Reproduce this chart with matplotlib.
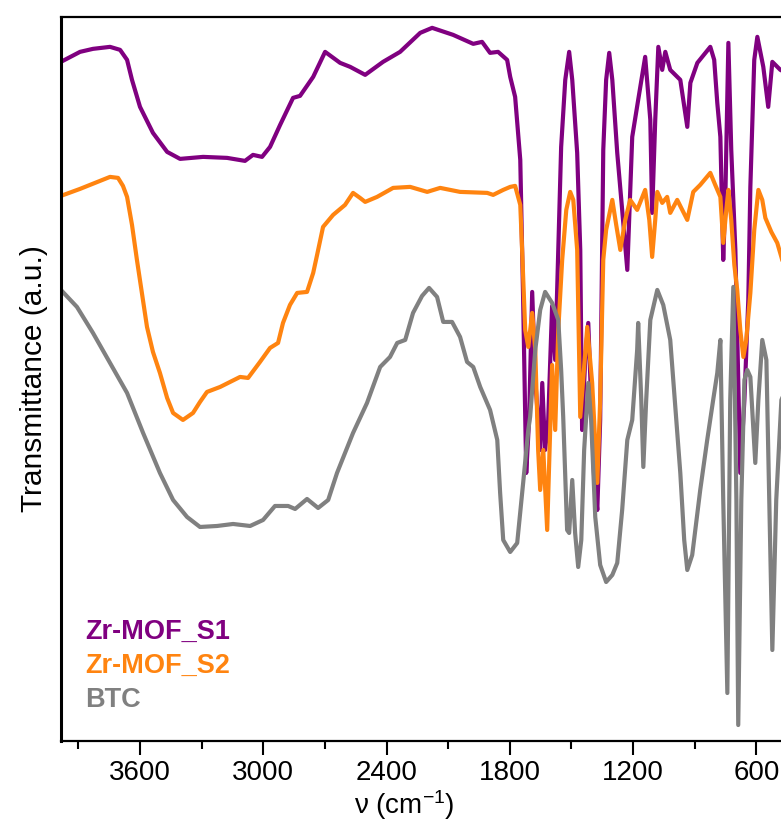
import matplotlib
matplotlib.use("Agg")
import matplotlib.pyplot as plt
from matplotlib.ticker import MultipleLocator

plt.rcParams["font.family"] = ["Liberation Sans", "DejaVu Sans"]
plt.rcParams["mathtext.fontset"] = "custom"
plt.rcParams["mathtext.rm"] = "Liberation Sans"
plt.rcParams["mathtext.it"] = "Liberation Sans:italic"

# Zr-MOF_S1 : wavenumber (cm-1), transmittance (a.u.)
s1_wn = [3985, 3892, 3829, 3746, 3697, 3663, 3639, 3600, 3537, 3468, 3405, 3293, 3176,
         3089, 3050, 3006, 2967, 2918, 2855, 2821, 2757, 2699, 2626, 2577, 2504, 2417,
         2334, 2236, 2178, 2076, 1978, 1935, 1896, 1857, 1813, 1798, 1774, 1749, 1735,
         1720, 1706, 1691, 1676, 1652, 1642, 1628, 1613, 1594, 1579, 1564, 1550, 1530,
         1511, 1496, 1472, 1457, 1448, 1433, 1418, 1404, 1389, 1374, 1360, 1345, 1331,
         1316, 1301, 1277, 1253, 1228, 1219, 1204, 1175, 1141, 1116, 1107, 1092, 1077,
         1058, 1043, 1019, 970, 936, 921, 887, 824, 805, 790, 775, 761, 751, 736, 722,
         702, 678, 658, 639, 629, 610, 595, 566, 542, 522, 483, 434, 400]
s1_t = [67.9, 68.9, 69.2, 69.4, 69.1, 68.1, 66.1, 63.4, 60.8, 58.9, 58.2, 58.4, 58.3,
        58.0, 58.6, 58.4, 59.4, 61.6, 64.3, 64.5, 66.4, 68.9, 67.8, 67.4, 66.6, 67.9,
        68.9, 70.8, 71.3, 70.6, 69.7, 69.9, 68.8, 68.9, 68.1, 66.4, 64.4, 58.1, 44.1,
        26.8, 32.1, 44.9, 36.1, 29.1, 35.8, 29.1, 32.1, 43.5, 38.1, 49.1, 59.4, 66.1,
        68.9, 66.1, 58.8, 49.1, 31.1, 38.1, 41.8, 34.1, 26.1, 23.1, 32.1, 59.1, 66.1,
        68.8, 66.1, 58.8, 53.1, 47.1, 52.1, 60.4, 64.1, 68.4, 62.1, 52.8, 62.1, 69.4,
        67.1, 68.9, 67.1, 66.1, 61.4, 65.8, 67.8, 69.4, 68.1, 63.8, 60.4, 48.1, 54.1,
        69.8, 59.1, 49.1, 26.8, 34.1, 44.1, 55.4, 68.1, 70.4, 67.4, 63.4, 67.9, 67.1,
        66.6, 66.1]

# Zr-MOF_S2
s2_wn = [3985, 3892, 3819, 3746, 3707, 3683, 3663, 3639, 3615, 3566, 3537, 3503, 3468,
         3439, 3391, 3342, 3308, 3274, 3210, 3113, 3074, 3016, 2967, 2928, 2904, 2870,
         2835, 2787, 2757, 2738, 2709, 2660, 2602, 2563, 2529, 2504, 2446, 2368, 2285,
         2202, 2139, 2042, 1910, 1881, 1832, 1798, 1774, 1749, 1740, 1725, 1710, 1691,
         1676, 1662, 1652, 1637, 1618, 1594, 1579, 1564, 1545, 1525, 1506, 1491, 1472,
         1457, 1423, 1399, 1374, 1360, 1345, 1331, 1301, 1282, 1262, 1238, 1214, 1180,
         1141, 1121, 1107, 1092, 1082, 1058, 1034, 1019, 985, 936, 907, 873, 824, 800,
         775, 761, 746, 736, 722, 707, 693, 678, 663, 649, 629, 610, 590, 571, 556, 527,
         498, 478, 434, 400]
s2_t = [54.5, 55.2, 55.8, 56.4, 56.3, 55.5, 54.4, 51.6, 48.1, 41.4, 38.9, 36.8, 34.3,
        32.8, 32.1, 32.8, 33.9, 34.9, 35.4, 36.4, 36.3, 37.9, 39.3, 39.8, 41.8, 43.6,
        44.8, 44.9, 46.8, 48.6, 51.4, 52.6, 53.6, 54.8, 54.3, 53.9, 54.4, 55.3, 55.4,
        54.9, 55.3, 54.9, 54.8, 54.6, 55.1, 55.4, 55.5, 53.6, 49.1, 41.1, 39.4, 42.8,
        39.1, 29.1, 25.1, 29.1, 21.1, 37.6, 31.1, 41.1, 48.1, 53.1, 54.9, 54.1, 49.1,
        32.4, 41.4, 35.8, 25.8, 34.1, 48.1, 51.1, 54.1, 51.6, 49.1, 52.1, 54.1, 53.1,
        55.1, 52.1, 48.4, 52.1, 54.9, 53.8, 54.4, 52.8, 54.1, 52.1, 54.9, 55.6, 56.8,
        55.6, 54.4, 49.8, 53.1, 55.1, 52.1, 47.6, 45.1, 41.1, 38.4, 40.1, 44.8, 51.1,
        55.1, 54.1, 52.3, 50.9, 49.8, 48.4, 45.1, 42.1]

# BTC
btc_wn = [3985, 3907, 3829, 3746, 3663, 3585, 3503, 3439, 3371, 3308, 3225, 3147, 3064,
          3001, 2943, 2879, 2845, 2787, 2733, 2684, 2641, 2563, 2495, 2431, 2383, 2348,
          2309, 2271, 2227, 2193, 2154, 2124, 2081, 2042, 2008, 1978, 1944, 1896, 1861,
          1847, 1832, 1798, 1764, 1735, 1710, 1701, 1676, 1652, 1628, 1594, 1564, 1550,
          1540, 1521, 1511, 1496, 1482, 1467, 1452, 1438, 1418, 1404, 1384, 1360, 1331,
          1301, 1277, 1253, 1228, 1204, 1180, 1175, 1160, 1150, 1136, 1116, 1082, 1053,
          1019, 970, 951, 936, 912, 873, 839, 810, 790, 775, 761, 741, 727, 712, 697, 688,
          673, 658, 644, 629, 605, 590, 571, 551, 537, 522, 503, 478, 434, 400]
btc_t = [45.1, 43.4, 40.8, 37.8, 34.8, 30.8, 26.8, 24.1, 22.4, 21.4, 21.5, 21.7, 21.5,
         22.1, 23.5, 23.5, 23.2, 24.2, 23.3, 24.1, 26.8, 30.8, 33.8, 37.4, 38.4, 39.8,
         40.1, 42.8, 44.5, 45.3, 44.4, 41.9, 41.9, 40.4, 37.9, 37.4, 35.4, 33.1, 30.1,
         24.8, 20.1, 18.9, 19.8, 25.8, 31.1, 32.4, 39.1, 43.1, 44.9, 43.8, 42.1, 37.1,
         32.4, 21.1, 20.8, 26.1, 20.8, 17.4, 20.1, 29.1, 35.8, 32.1, 22.4, 17.6, 15.9,
         16.6, 17.8, 23.1, 30.1, 32.1, 39.1, 41.8, 34.1, 27.4, 34.1, 42.1, 45.1, 43.6,
         40.1, 26.8, 20.1, 17.1, 18.6, 25.1, 30.1, 34.1, 36.8, 40.1, 24.1, 4.8, 34.1,
         45.4, 24.1, 1.6, 24.1, 36.1, 37.1, 36.4, 27.8, 34.1, 40.1, 38.1, 24.1, 9.1,
         24.1, 34.1, 36.1, 34.1]

series = [
    ("Zr-MOF_S1", s1_wn, s1_t, "#800080"),
    ("Zr-MOF_S2", s2_wn, s2_t, "#FF8410"),
    ("BTC", btc_wn, btc_t, "#808080"),
]

fig = plt.figure(figsize=(7.81, 8.22), dpi=100)
ax = fig.add_axes([0.078, 0.0985, 0.943, 0.881])

for name, wn, t, col in series:
    ax.plot(wn, t, color=col, linewidth=3.0, solid_joinstyle="round")

ax.set_xlim(3985, 400)
ax.set_ylim(0, 72.4)

ax.xaxis.set_major_locator(MultipleLocator(600))
ax.xaxis.set_minor_locator(MultipleLocator(300))
ax.tick_params(axis="x", which="major", direction="out", length=10, width=1.5,
               labelsize=20, pad=4)
ax.tick_params(axis="x", which="minor", direction="out", length=6, width=1.5)
ax.set_yticks([])

for side in ["left", "bottom", "top"]:
    ax.spines[side].set_linewidth(1.6)
ax.spines["left"].set_linewidth(2.2)
ax.spines["right"].set_visible(False)

ax.set_xlabel(r"ν (cm$^{-1}$)", fontsize=20, labelpad=0)
ax.xaxis.set_label_coords(0.466, -0.065)
ax.set_ylabel("Transmittance (a.u.)", fontsize=21.5, labelpad=9)

label_y = [0.1506, 0.1036, 0.0566]
for (name, wn, t, col), yy in zip(series, label_y):
    ax.text(0.033, yy, name, transform=ax.transAxes, color=col, fontsize=19.5,
            fontweight="bold", ha="left", va="center")

fig.savefig("out.png", dpi=100)
